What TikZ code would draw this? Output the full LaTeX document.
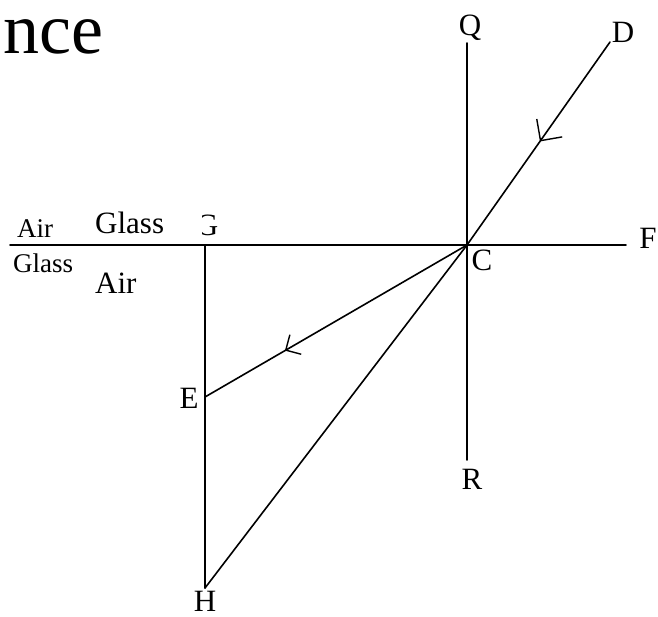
\documentclass[tikz,border=0pt]{standalone}
\usepackage{fontspec}
\setmainfont{Liberation Serif}
\usetikzlibrary{arrows.meta,decorations.markings}
\tikzset{
  ray/.style={line width=1.6pt},
  barb/.style 2 args={postaction={decorate},decoration={markings,
    mark=at position #1 with {\arrow{Straight Barb[angle=90:#2,line width=1.4pt]}}}},
  lbl/.style={inner sep=0pt,anchor=base},
}
\begin{document}
\begin{tikzpicture}[x=1pt,y=-1pt,line join=round,line cap=round,font=\fontsize{31}{34}\selectfont]
\useasboundingbox (0,0) rectangle (658,616);
% points
\coordinate (C) at (467,245);
\coordinate (Q) at (467,43);
\coordinate (R) at (467,460);
\coordinate (D) at (610,42);
\coordinate (F) at (626,245);
\coordinate (W) at (10,245);
\coordinate (G) at (205,245);
\coordinate (E) at (205,397);
\coordinate (H) at (205,588);
% lines
\draw[ray] (W)--(F);
\draw[ray] (Q)--(R);
\draw[ray] (G)--(H);
\draw[ray,barb={0.49}{22pt}] (D)--(C);
\draw[ray,barb={0.695}{16pt}] (C)--(E);
\draw[ray] (C)--(H);
% labels
\path
(470,35) node[lbl] (q) {Q}
(623,42) node[lbl] (d) {D}
(648,248) node[lbl] (f) {F}
(482,270) node[lbl] (c) {C}
(189,408) node[lbl] (e) {E}
(205,611) node[lbl] (h) {H}
(472,489) node[lbl] (r) {R}
(95,233) node[lbl,anchor=base west] (glass) {Glass}
(95,293) node[lbl,anchor=base west] (air) {Air};
\begin{scope}
\clip (202,200) rectangle (230,240);
\node[lbl] (g) at (207,235) {G};
\end{scope}
\path[font=\fontsize{27}{30}\selectfont]
(17,237) node[lbl,anchor=base west] (airl) {Air};
\begin{scope}
\clip (0,247) rectangle (71,285);
\node[lbl,anchor=base west,font=\fontsize{27}{30}\selectfont] (glassl) at (13,272) {Glass};
\end{scope}
\node[lbl,anchor=base west,font=\fontsize{72}{80}\selectfont] (title) at (3,53) {nce};
\end{tikzpicture}
\end{document}
